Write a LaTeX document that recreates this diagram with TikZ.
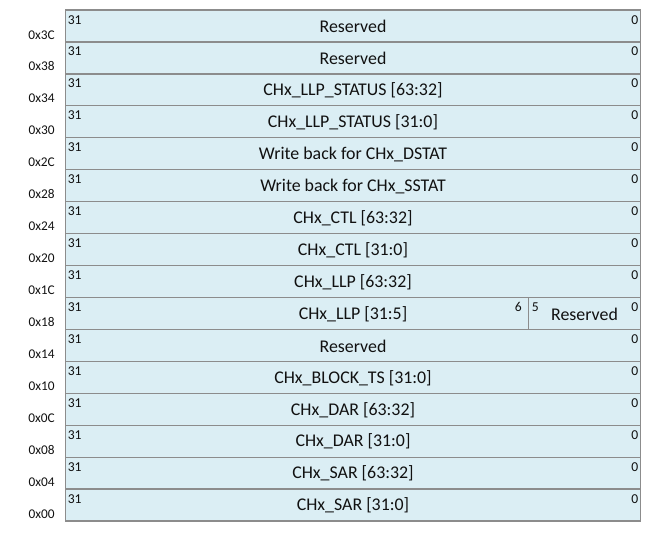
\documentclass[tikz,border=0pt]{standalone}
\usepackage{fontspec}
\setmainfont{Carlito}
\definecolor{regfill}{HTML}{DBEEF4}
\definecolor{regline}{HTML}{8C8C8C}
\definecolor{txt}{HTML}{111111}
\begin{document}
\begin{tikzpicture}[x=0.75pt,y=-0.75pt,
  regrow/.style={draw=regline, fill=regfill, line width=1pt, minimum width=431.25pt,
    minimum height=23.955pt, inner sep=0pt, outer sep=0pt, anchor=north west},
  field/.style={font=\fontsize{13.4}{15}\selectfont, text=txt, inner sep=0pt},
  bitnum/.style={font=\fontsize{10.2}{11}\selectfont, text=txt, inner sep=0pt},
  addr/.style={font=\fontsize{10}{11}\selectfont, text=txt, inner sep=0pt, anchor=base east}]
\useasboundingbox (0,0) rectangle (655,532);
\foreach [count=\i from 0] \name/\ad in {
  {Reserved}/3C,
  {Reserved}/38,
  {CHx\_LLP\_STATUS [63:32]}/34,
  {CHx\_LLP\_STATUS [31:0]}/30,
  {Write back for CHx\_DSTAT}/2C,
  {Write back for CHx\_SSTAT}/28,
  {CHx\_CTL [63:32]}/24,
  {CHx\_CTL [31:0]}/20,
  {CHx\_LLP [63:32]}/1C,
  {CHx\_LLP [31:5]}/18,
  {Reserved}/14,
  {CHx\_BLOCK\_TS [31:0]}/10,
  {CHx\_DAR [63:32]}/0C,
  {CHx\_DAR [31:0]}/08,
  {CHx\_SAR [63:32]}/04,
  {CHx\_SAR [31:0]}/00}
{
  \pgfmathsetmacro\yt{10+31.94*\i}
  \node[regrow] (row\i) at (65.5,\yt) {};
  \node[field] (f\i) at (353,\yt+16.5) {\name};
  \node[bitnum, anchor=base west] (hi\i) at (67.5,\yt+14) {31};
  \node[bitnum, anchor=base east] (lo\i) at (638.5,\yt+14) {0};
  \node[addr] (a\i) at (55,\yt+29) {0x\ad};
}
% split of row 0x18
\draw[regline, line width=1pt] (528.5,297.46) coordinate (splt) -- (528.5,329.4) coordinate (splb);
\node[bitnum, anchor=base east] (b6) at (522,311.46) {6};
\node[bitnum, anchor=base west] (b5) at (531.5,311.46) {5};
\node[field] (res18) at (584.5,313.96) {Reserved};
\end{tikzpicture}
\end{document}
